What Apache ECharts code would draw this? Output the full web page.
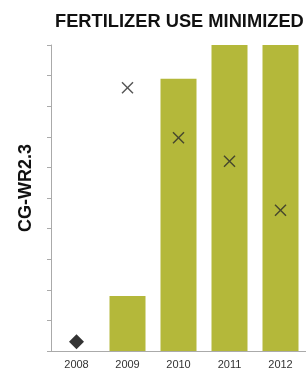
<!DOCTYPE html>
<html>
<head>
<meta charset="utf-8">
<script src="https://cdn.jsdelivr.net/npm/echarts@6/dist/echarts.min.js"></script>
<style>
  html, body { margin: 0; padding: 0; background: #fff; }
  #chart { width: 306px; height: 372px; }
</style>
</head>
<body>
<div id="chart"></div>
<script>
const years = ['2008', '2009', '2010', '2011', '2012']
const barValues = [null, 1.8, 8.9, 10, 10]
const crossValues = [null, 8.6, 6.97, 6.2, 4.6]
const diamondValues = [0.3, null, null, null, null]

const CROSS = 'path://M0,1 L1,0 L6,5 L11,0 L12,1 L7,6 L12,11 L11,12 L6,7 L1,12 L0,11 L5,6 Z'

const chart = echarts.init(document.getElementById('chart'))
chart.setOption({
  animation: false,
  title: {
    text: 'FERTILIZER USE MINIMIZED',
    left: 55, top: 8, padding: [5, 0, 5, 0],
    textStyle: { fontFamily: 'Liberation Sans', fontWeight: 'bold', fontSize: 18.3, color: '#111' }
  },
  grid: { left: 51, top: 45, width: 258, height: 306 },
  xAxis: {
    type: 'category',
    data: years,
    axisLine: { lineStyle: { color: '#aaa' } },
    axisTick: { length: 4, lineStyle: { color: '#aaa' } },
    axisLabel: { fontFamily: 'Liberation Sans', fontSize: 11, color: '#333', margin: 8 }
  },
  yAxis: {
    type: 'value', min: 0, max: 10, interval: 1,
    name: 'CG-WR2.3',
    nameLocation: 'center',
    nameGap: 16,
    nameTextStyle: {
      fontFamily: 'Liberation Sans', fontWeight: 'bold', fontSize: 18, color: '#111',
      padding: [0, 0, 0, 20]
    },
    axisLine: { show: true, lineStyle: { color: '#aaa' } },
    axisTick: { show: true, length: 4, lineStyle: { color: '#aaa' } },
    axisLabel: { show: false },
    splitLine: { show: false }
  },
  series: [
    {
      type: 'bar', data: barValues, barWidth: 36,
      itemStyle: { color: '#b4b83a' }
    },
    {
      type: 'scatter', data: crossValues, symbol: CROSS, symbolSize: 12,
      itemStyle: { color: '#2a2a2a' }
    },
    {
      type: 'scatter', data: diamondValues, symbol: 'diamond', symbolSize: 15,
      itemStyle: { color: '#000' }
    }
  ]
})
</script>
</body>
</html>
